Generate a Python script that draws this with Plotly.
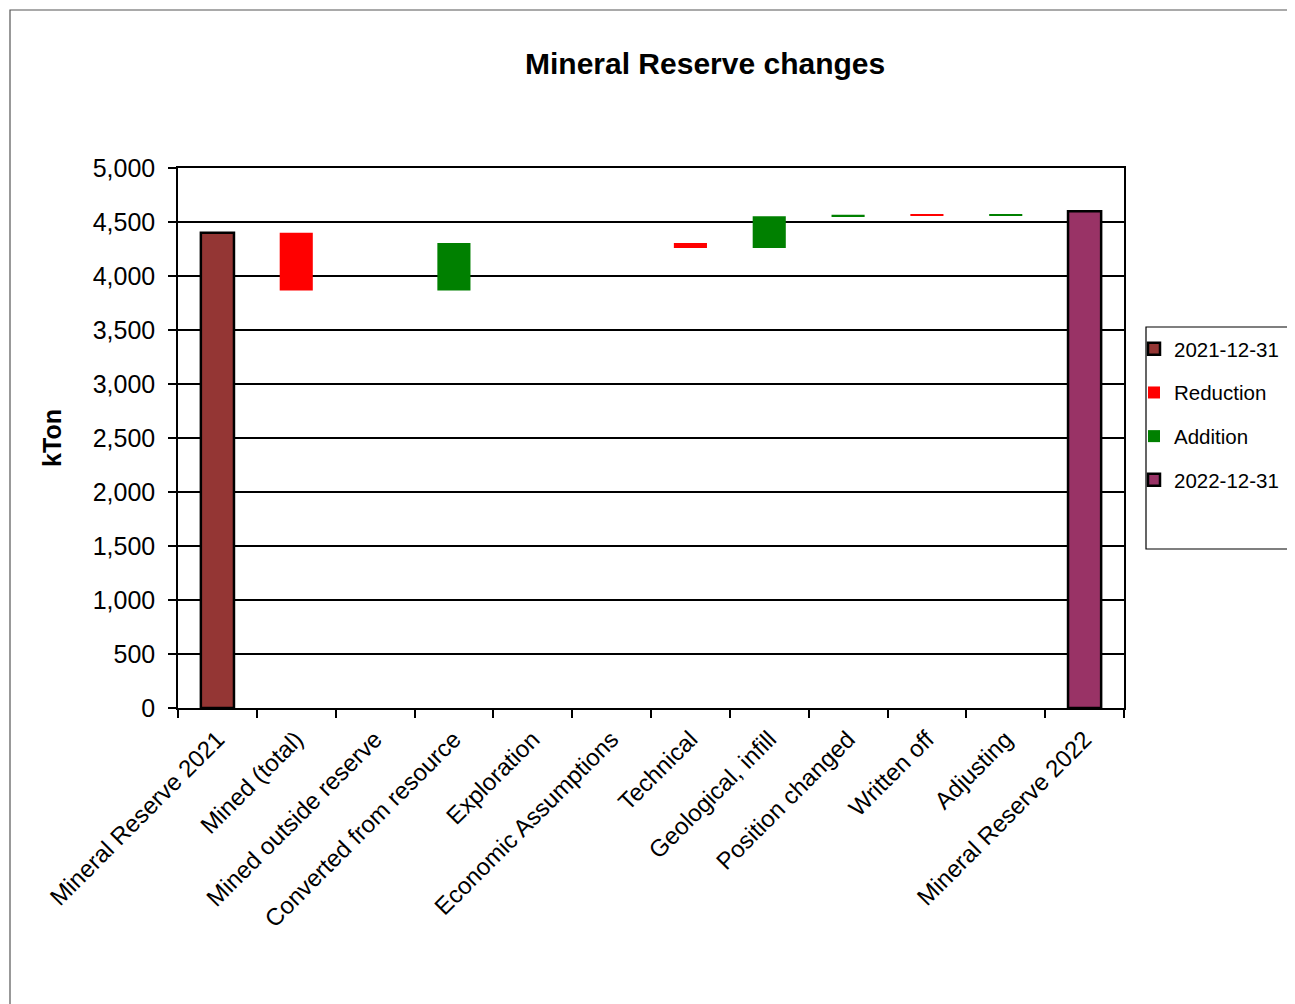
import plotly.graph_objects as go

categories = ["Mineral Reserve 2021", "Mined (total)", "Mined outside reserve",
              "Converted from resource", "Exploration", "Economic Assumptions",
              "Technical", "Geological, infill", "Position changed", "Written off",
              "Adjusting", "Mineral Reserve 2022"]
start_value = 4400
end_value = 4600
reductions = [0, 535, 0, 0, 0, 0, 45, 0, 0, 12, 0, 0]
additions = [0, 0, 0, 440, 0, 0, 0, 293, 15, 0, 10, 0]
y_ticks = [0, 500, 1000, 1500, 2000, 2500, 3000, 3500, 4000, 4500, 5000]

# running level for waterfall
levels = []
lvl = start_value
for r, a in zip(reductions, additions):
    lvl = lvl - r + a
    levels.append(lvl)

red_y, red_base, add_y, add_base = [], [], [], []
prev = start_value
for i, (r, a) in enumerate(zip(reductions, additions)):
    if r > 0:
        red_y.append(r); red_base.append(prev - r)
    else:
        red_y.append(None); red_base.append(None)
    if a > 0:
        add_y.append(a); add_base.append(prev)
    else:
        add_y.append(None); add_base.append(None)
    prev = levels[i]

start_y = [start_value] + [None] * 11
end_y = [None] * 11 + [end_value]

FONT = "Liberation Sans, Arial, sans-serif"
W = 0.42

# figure geometry (page has 8px body margin)
FIG_W, FIG_H = 1287, 996
L, T, PW, PH = 170, 160, 946, 540


def px(xf):
    return (xf - L) / PW


def py(yf):
    return (T + PH - yf) / PH


fig = go.Figure()
fig.add_trace(go.Bar(x=categories, y=start_y, name="2021-12-31", width=W,
                     marker=dict(color="#943634", line=dict(color="black", width=2.5)),
                     legendgroup="a"))
fig.add_trace(go.Bar(x=categories, y=red_y, base=red_base, name="Reduction", width=W,
                     marker=dict(color="#FF0000", line=dict(width=0)), legendgroup="b"))
fig.add_trace(go.Bar(x=categories, y=add_y, base=add_base, name="Addition", width=W,
                     marker=dict(color="#008000", line=dict(width=0)), legendgroup="c"))
fig.add_trace(go.Bar(x=categories, y=end_y, name="2022-12-31", width=W,
                     marker=dict(color="#993366", line=dict(color="black", width=2.5)),
                     legendgroup="d"))

fig.update_layout(
    width=FIG_W, height=FIG_H,
    margin=dict(l=L, r=FIG_W - L - PW, t=T, b=FIG_H - T - PH, autoexpand=False),
    paper_bgcolor="white", plot_bgcolor="white",
    barmode="overlay",
    font=dict(family=FONT, size=24, color="black"),
    showlegend=True,
    legend=dict(x=px(1126), xanchor="left", y=py(321), yanchor="top",
                bgcolor="rgba(0,0,0,0)", borderwidth=0,
                font=dict(family=FONT, size=20.5, color="black"),
                traceorder="grouped", tracegroupgap=14, itemwidth=30),
    annotations=[dict(text="<b>Mineral Reserve changes</b>", xref="paper", yref="paper",
                      x=px(697), y=py(56), xanchor="center", yanchor="middle",
                      showarrow=False, font=dict(family=FONT, size=30, color="black"))],
    shapes=[
        dict(type="rect", xref="paper", yref="paper",
             x0=px(1138), x1=px(1285), y0=py(541), y1=py(319),
             line=dict(color="black", width=1.2), fillcolor="rgba(0,0,0,0)"),
        dict(type="rect", xref="paper", yref="paper",
             x0=px(2), x1=px(1300), y0=py(1010), y1=py(2),
             line=dict(color="#555555", width=1.2), fillcolor="rgba(0,0,0,0)"),
    ],
)

fig.update_xaxes(
    type="category", tickangle=-45, tickson="boundaries",
    ticks="outside", ticklen=8, tickwidth=1.5, tickcolor="black",
    ticklabelstandoff=6,
    showline=True, linecolor="black", linewidth=1.5, mirror=True,
    showgrid=False, tickfont=dict(family=FONT, size=24, color="black"),
    fixedrange=True,
)
fig.update_yaxes(
    range=[0, 5000], tickvals=y_ticks, tickformat=",d",
    ticks="outside", ticklen=8, tickwidth=1.5, tickcolor="black",
    ticklabelstandoff=8,
    showline=True, linecolor="black", linewidth=1.5, mirror=True,
    showgrid=True, gridcolor="black", gridwidth=1.5,
    zeroline=False,
    tickfont=dict(family=FONT, size=25, color="black"),
    title=dict(text="<b>kTon</b>", font=dict(family=FONT, size=25, color="black"), standoff=24),
    fixedrange=True,
)

fig.write_html("out.html")
